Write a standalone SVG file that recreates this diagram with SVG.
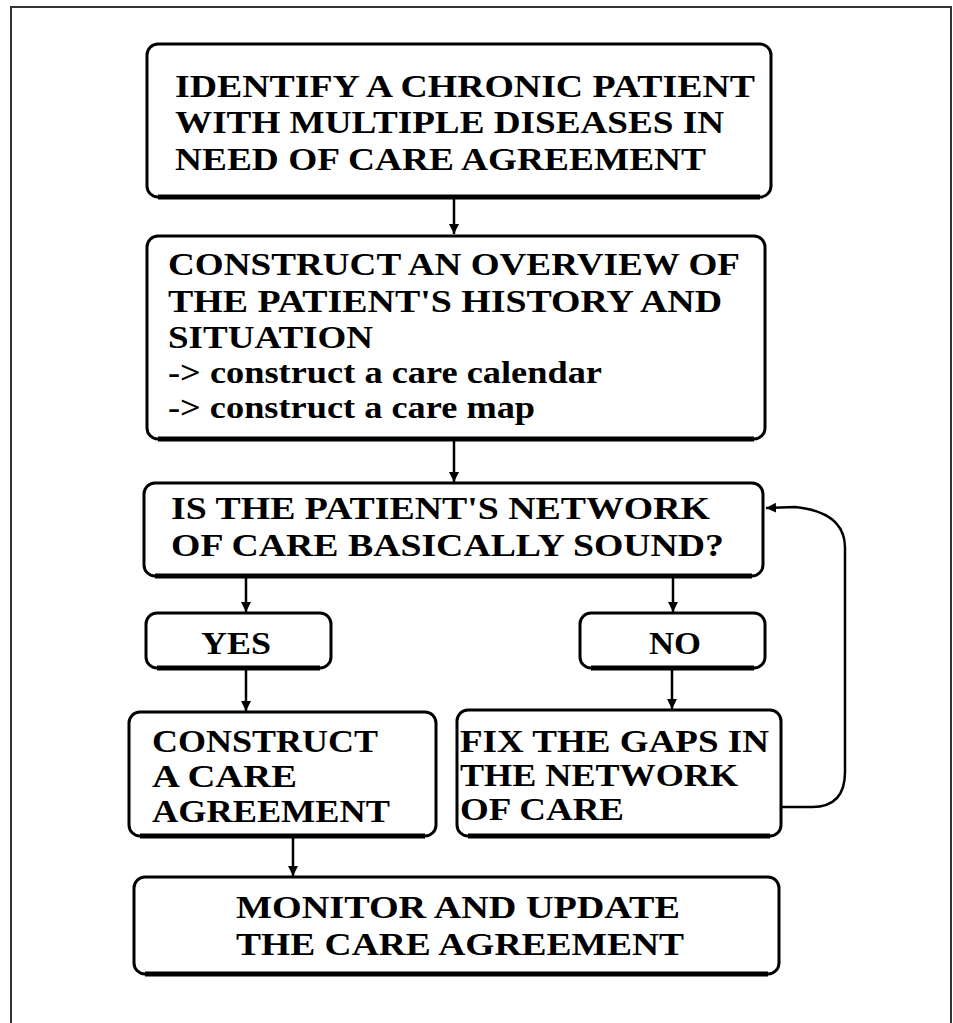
<svg xmlns="http://www.w3.org/2000/svg" width="953" height="1023" viewBox="0 0 953 1023">
<style>
.frame{fill:#fff;stroke:#333;stroke-width:2}
.box{fill:#fff;stroke:#000;stroke-width:3}
.shadow{fill:none;stroke:#000;stroke-width:5}
.t{font-family:"Liberation Serif","Times New Roman",serif;font-weight:bold;font-size:32px;fill:#000}
.c{text-anchor:middle}
.conn{fill:none;stroke:#000;stroke-width:2.5}
</style>
<defs>
<marker id="ah" markerUnits="userSpaceOnUse" markerWidth="12" markerHeight="12" refX="10" refY="5" orient="auto">
<path d="M0,0 L10,5 L0,10 Z" fill="#000"/>
</marker>
</defs>
<rect x="0" y="0" width="953" height="1023" fill="#fff"/>
<rect class="frame" x="11" y="7" width="940" height="1030"/>

<g id="n1">
<rect class="box" x="147" y="44" width="624" height="153" rx="11"/>
<path class="shadow" d="M158,197 H760"/>
<text class="t" x="175" y="97" textLength="580" lengthAdjust="spacingAndGlyphs">IDENTIFY A CHRONIC PATIENT</text>
<text class="t" x="175" y="133" textLength="549" lengthAdjust="spacingAndGlyphs">WITH MULTIPLE DISEASES IN</text>
<text class="t" x="175" y="170" textLength="531" lengthAdjust="spacingAndGlyphs">NEED OF CARE AGREEMENT</text>
</g>

<g id="n2">
<rect class="box" x="147" y="236" width="618" height="203" rx="11"/>
<path class="shadow" d="M158,439 H754"/>
<text class="t" x="168" y="275" textLength="572" lengthAdjust="spacingAndGlyphs">CONSTRUCT AN OVERVIEW OF</text>
<text class="t" x="168" y="312" textLength="554" lengthAdjust="spacingAndGlyphs">THE PATIENT'S HISTORY AND</text>
<text class="t" x="168" y="348" textLength="205" lengthAdjust="spacingAndGlyphs">SITUATION</text>
<text class="t" x="168" y="383" textLength="434" lengthAdjust="spacingAndGlyphs">-&gt; construct a care calendar</text>
<text class="t" x="168" y="418" textLength="367" lengthAdjust="spacingAndGlyphs">-&gt; construct a care map</text>
</g>

<g id="n3">
<rect class="box" x="144" y="483" width="619" height="93" rx="11"/>
<path class="shadow" d="M155,576 H752"/>
<text class="t" x="171" y="519" textLength="539" lengthAdjust="spacingAndGlyphs">IS THE PATIENT'S NETWORK</text>
<text class="t" x="171" y="556" textLength="553" lengthAdjust="spacingAndGlyphs">OF CARE BASICALLY SOUND?</text>
</g>

<g id="n4">
<rect class="box" x="146" y="613" width="185" height="55" rx="11"/>
<path class="shadow" d="M157,668 H320"/>
<text class="t c" x="236" y="654" textLength="70" lengthAdjust="spacingAndGlyphs">YES</text>
</g>

<g id="n5">
<rect class="box" x="580" y="613" width="185" height="55" rx="11"/>
<path class="shadow" d="M591,668 H754"/>
<text class="t c" x="675" y="654" textLength="52" lengthAdjust="spacingAndGlyphs">NO</text>
</g>

<g id="n6">
<rect class="box" x="129" y="712" width="307" height="124" rx="11"/>
<path class="shadow" d="M140,836 H425"/>
<text class="t" x="152" y="752" textLength="226" lengthAdjust="spacingAndGlyphs">CONSTRUCT</text>
<text class="t" x="152" y="787" textLength="145" lengthAdjust="spacingAndGlyphs">A CARE</text>
<text class="t" x="152" y="822" textLength="238" lengthAdjust="spacingAndGlyphs">AGREEMENT</text>
</g>

<g id="n7">
<rect class="box" x="457" y="710" width="324" height="126" rx="11"/>
<path class="shadow" d="M468,836 H770"/>
<text class="t" x="460" y="752" textLength="309" lengthAdjust="spacingAndGlyphs">FIX THE GAPS IN</text>
<text class="t" x="460" y="786" textLength="278" lengthAdjust="spacingAndGlyphs">THE NETWORK</text>
<text class="t" x="460" y="820" textLength="164" lengthAdjust="spacingAndGlyphs">OF CARE</text>
</g>

<g id="n8">
<rect class="box" x="134" y="877" width="645" height="97" rx="11"/>
<path class="shadow" d="M145,974 H768"/>
<text class="t c" x="458" y="918" textLength="444" lengthAdjust="spacingAndGlyphs">MONITOR AND UPDATE</text>
<text class="t c" x="460" y="955" textLength="448" lengthAdjust="spacingAndGlyphs">THE CARE AGREEMENT</text>
</g>

<g id="connectors">
<path class="conn" d="M454,199 V234" marker-end="url(#ah)"/>
<path class="conn" d="M454,441 V482" marker-end="url(#ah)"/>
<path class="conn" d="M246,578 V612" marker-end="url(#ah)"/>
<path class="conn" d="M673,578 V612" stroke-width="2" marker-end="url(#ah)"/>
<path class="conn" d="M246,670 V711" marker-end="url(#ah)"/>
<path class="conn" d="M672,670 V709" stroke-width="2" marker-end="url(#ah)"/>
<path class="conn" d="M293,838 V876" marker-end="url(#ah)"/>
<path class="conn" d="M782,807 H812 Q845,807 845,772 V548 Q845,512 795,507 L766,508" marker-end="url(#ah)"/>
</g>
</svg>
